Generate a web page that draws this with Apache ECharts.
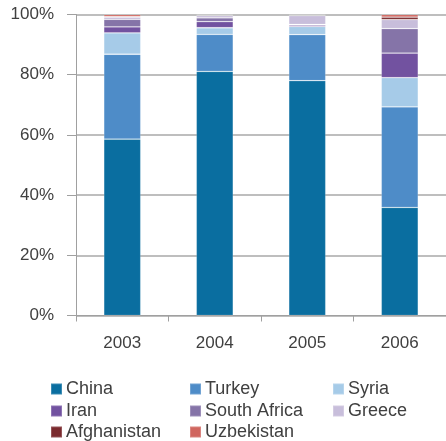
<!DOCTYPE html>
<html><head><meta charset="utf-8">
<script src="https://cdn.jsdelivr.net/npm/echarts@6/dist/echarts.min.js"></script>
<style>html,body{margin:0;padding:0;background:#fff}#c{width:446px;height:441px}</style>
</head><body><div id="c"></div>
<script>
const years = ['2003', '2004', '2005', '2006'];
const china = [58.6, 81.1, 78.0, 35.9];
const turkey = [28.2, 12.3, 15.3, 33.4];
const syria = [7.1, 2.2, 2.7, 9.7];
const iran = [2.0, 2.0, 0.5, 8.2];
const southAfrica = [2.5, 1.3, 0.2, 8.1];
const greece = [0.7, 0.7, 2.9, 3.0];
const afghanistan = [0.2, 0.1, 0.1, 0.8];
const uzbekistan = [0.7, 0.3, 0.3, 0.9];
const yTicks = ['0%', '20%', '40%', '60%', '80%', '100%'];

const names = ['China','Turkey','Syria','Iran','South Africa','Greece','Afghanistan','Uzbekistan'];
const values = [china, turkey, syria, iran, southAfrica, greece, afghanistan, uzbekistan];
const colors = ['#0a6ea0','#4e8cc8','#a6cbe8','#7252a0','#8574a8','#c8bedb','#7a2a2e','#d0665f'];

const font = 'Liberation Sans';
const series = names.map((n, i) => ({
  name: n, type: 'bar', stack: 'total', barWidth: '40%',
  data: values[i],
  itemStyle: { color: colors[i], borderColor: 'rgba(255,255,255,0.2)', borderWidth: 0.8 }
}));

const colX = [50, 189, 332];
const rowY = [380, 402, 423];
const legends = names.map((n, i) => ({
  left: colX[i % 3], top: rowY[Math.floor(i / 3)],
  itemWidth: 11, itemHeight: 11, icon: 'rect', itemGap: 0,
  padding: 0, data: [n],
  textStyle: { fontFamily: font, fontSize: 18, color: '#404040', padding: [0, 0, 0, -1] }
}));

const chart = echarts.init(document.getElementById('c'), null, { renderer: 'canvas' });
chart.setOption({
  animation: false,
  grid: { left: 76, top: 14.5, height: 301, width: 380 },
  legend: legends,
  xAxis: {
    type: 'category', data: years,
    axisLine: { lineStyle: { color: '#a0a0a0', width: 1 } },
    axisTick: { show: true, length: 6, lineStyle: { color: '#a0a0a0' } },
    axisLabel: { fontFamily: font, fontSize: 17, color: '#404040', margin: 19 }
  },
  yAxis: {
    type: 'value', min: 0, max: 100, interval: 20,
    axisLine: { show: true, lineStyle: { color: '#a0a0a0', width: 1 } },
    axisTick: { show: true, length: 9, lineStyle: { color: '#a0a0a0' } },
    splitLine: { show: true, lineStyle: { color: '#a8a8a8', width: 1.5, type: 'solid' } },
    axisLabel: { fontFamily: font, fontSize: 17, color: '#404040', margin: 22,
      formatter: v => yTicks[Math.round(v / 20)] }
  },
  series: series
});
</script></body></html>
